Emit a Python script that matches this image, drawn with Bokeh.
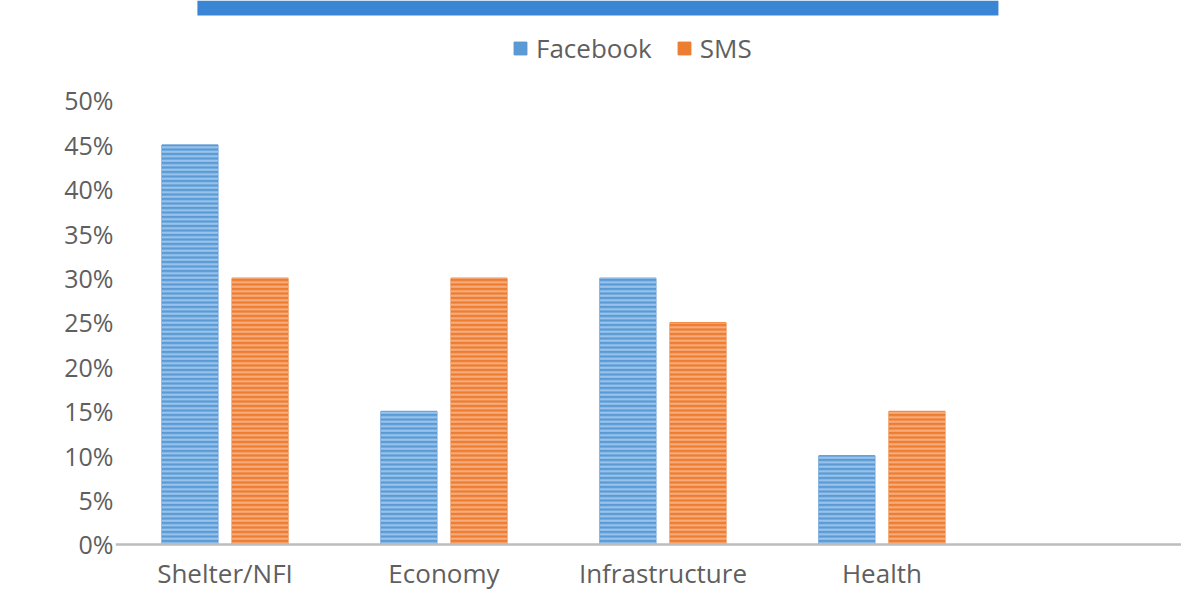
from bokeh.plotting import figure
from bokeh.models import ColumnDataSource, FixedTicker, NumeralTickFormatter, Range1d, Span
from bokeh.core.properties import value
from bokeh.embed import file_html
from bokeh.resources import INLINE

# ---- data ----
categories = ["Shelter/NFI", "Economy", "Infrastructure", "Health"]
facebook = [0.45, 0.15, 0.30, 0.10]
sms = [0.30, 0.30, 0.25, 0.15]
y_ticks = [0.0, 0.05, 0.10, 0.15, 0.20, 0.25, 0.30, 0.35, 0.40, 0.45, 0.50]

# ---- layout / style constants ----
FONT = "Open Sans"
TEXT = "#5f5f5f"
BLUE, BLUE_H = "#5b9bd5", "#9fc7ee"
ORANGE, ORANGE_H = "#ed7d31", "#f8b083"
OFFSET = 0.16
BAR_W = 0.256
X_END = 4.868
Y_START, Y_END = -0.05293, 0.61261

centers = [i + 0.5 for i in range(len(categories))]
src = ColumnDataSource(dict(
    x_fb=[c - OFFSET for c in centers],
    x_sms=[c + OFFSET for c in centers],
    facebook=facebook,
    sms=sms,
))
lab_src = ColumnDataSource(dict(x=centers, y=[0.0] * len(categories), text=categories))

p = figure(width=1181, height=591, output_backend="svg", toolbar_location=None,
           x_range=Range1d(0, X_END), y_range=Range1d(Y_START, Y_END),
           min_border_left=115, min_border_right=0, min_border_top=0, min_border_bottom=0)
p.outline_line_color = None
p.grid.visible = False
p.background_fill_color = "white"
p.border_fill_color = "white"
p.xaxis.visible = False

# title bar (cropped in the reference)
p.quad(left=[0.374], right=[4.032], bottom=[0.59572], top=[Y_END],
       fill_color="#3a86d4", line_color=None)

# solid bars (legend) + hatch overlay
p.vbar(x="x_fb", top="facebook", width=BAR_W, source=src,
       fill_color=BLUE, line_color="#5190d0", line_width=1, legend_label="Facebook")
p.vbar(x="x_fb", top="facebook", width=BAR_W, source=src, fill_alpha=0,
       line_color=None, hatch_pattern="horizontal_line", hatch_color=BLUE_H,
       hatch_scale=4.5, hatch_weight=2)
p.vbar(x="x_sms", top="sms", width=BAR_W, source=src,
       fill_color=ORANGE, line_color="#e8772b", line_width=1, legend_label="SMS")
p.vbar(x="x_sms", top="sms", width=BAR_W, source=src, fill_alpha=0,
       line_color=None, hatch_pattern="horizontal_line", hatch_color=ORANGE_H,
       hatch_scale=4.5, hatch_weight=2)

# category axis line and labels
p.add_layout(Span(location=0, dimension="width", line_color="#bdbdbd", line_width=2.5))
p.text(x="x", y="y", text="text", source=lab_src, text_align="center",
       text_baseline="top", y_offset=11, text_font=value(FONT),
       text_font_size="26px", text_color=TEXT)

ya = p.yaxis[0]
ya.ticker = FixedTicker(ticks=y_ticks)
ya.formatter = NumeralTickFormatter(format="0%")
ya.axis_line_color = None
ya.major_tick_line_color = None
ya.minor_tick_line_color = None
ya.major_label_standoff = -4
ya.major_label_text_font = FONT
ya.major_label_text_font_size = "25px"
ya.major_label_text_color = TEXT

# legend
lg = p.legend[0]
lg.orientation = "horizontal"
lg.location = (397, 525)
lg.background_fill_alpha = 0
lg.border_line_color = None
lg.padding = 0
lg.margin = 0
lg.spacing = 24
lg.glyph_width = 16
lg.glyph_height = 16
lg.label_standoff = 8
lg.label_text_font = FONT
lg.label_text_font_size = "26px"
lg.label_text_color = TEXT

open("out.html", "w").write(file_html(p, INLINE))
